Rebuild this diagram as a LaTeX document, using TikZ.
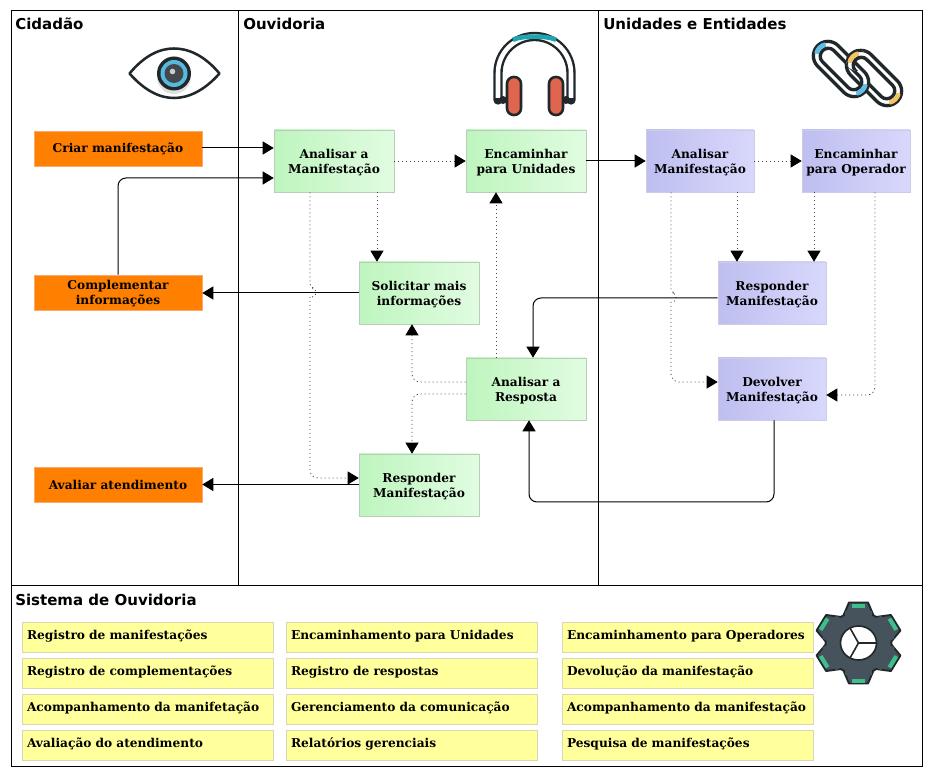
\documentclass[tikz,border=0pt]{standalone}
\usepackage{fontspec}
\setmainfont{DejaVu Serif}
\newfontfamily\titlefont{DejaVu Sans}
\usetikzlibrary{arrows.meta,calc}
\definecolor{inkdark}{HTML}{20282C}
\definecolor{gearbody}{HTML}{46535C}
\definecolor{gtip}{HTML}{3DBE8B}
\definecolor{tealband}{HTML}{1FA5B0}
\definecolor{padred}{HTML}{E0654F}
\definecolor{cblue}{HTML}{62BDE6}
\definecolor{cyellow}{HTML}{F5C35F}
\definecolor{orfill}{HTML}{FF8000}
\definecolor{ordraw}{HTML}{FAAA6E}
\definecolor{grl}{HTML}{BEF5BE}
\definecolor{grr}{HTML}{E1FCE1}
\definecolor{grd}{HTML}{B9CDB9}
\definecolor{bll}{HTML}{BEBEF0}
\definecolor{blr}{HTML}{D8D8FC}
\definecolor{bld}{HTML}{CDCDE6}
\definecolor{yef}{HTML}{FFFF9C}
\definecolor{yed}{HTML}{D8D8B8}
\newcommand{\chainlink}[1]{%
  \draw[white,line width=5pt,rounded corners=8.4pt] (-30,-11.2) rectangle (30,11.2);
  \draw[inkdark,line width=2.5pt,rounded corners=10.8pt] (-33,-14.5) rectangle (33,14.5);
  \draw[inkdark,line width=2.5pt,rounded corners=5.9pt] (-26,-8) rectangle (26,8);
  \draw[#1,line width=3.4pt] (-19,0) ++(145:11.2) arc[start angle=145,end angle=215,radius=11.2];
  \draw[#1,line width=3.4pt] (19,0) ++(-35:11.2) arc[start angle=-35,end angle=35,radius=11.2];
}
\newcommand{\boxlines}[1]{\raisebox{0pt}[\dimexpr\height+2.4pt\relax][\depth]{\begin{tabular}{@{}c@{}}#1\end{tabular}}}
\tikzset{
  x=0.75pt,y=-0.75pt,
  lane/.style={draw=black,line width=.75pt},
  lanetitle/.style={anchor=west,inner sep=0,font=\titlefont\fontsize{11.25}{14}\selectfont\bfseries},
  boxtext/.style={align=center,inner sep=0,font=\fontsize{9.15}{11.25}\selectfont\bfseries},
  orangebox/.style={boxtext,fill=orfill,draw=ordraw,line width=.4pt,minimum width=126pt,minimum height=26.25pt},
  greenbox/.style={boxtext,left color=grl,right color=grr,draw=grd,line width=.4pt,minimum width=90pt,minimum height=46.5pt},
  bluebox/.style={boxtext,left color=bll,right color=blr,draw=bld,line width=.4pt,minimum width=81pt,minimum height=46.5pt},
  yellowbox/.style={inner ysep=0,inner xsep=3.75pt,align=left,text width=180.75pt,minimum height=22.5pt,font=\fontsize{9.15}{11.25}\selectfont\bfseries,fill=yef,draw=yed,line width=.4pt},
  solid line/.style={draw=black,line width=.75pt,rounded corners=6pt},
  dot line/.style={draw=black!75,line width=.6pt,dash pattern=on .75pt off 2.25pt,rounded corners=6pt},
  tip/.style={-{Triangle[length=8.25pt,width=9.75pt,color=black,fill=black]}},
}
\begin{document}
\begin{tikzpicture}
\useasboundingbox (0,0) rectangle (933,777);
\fill[white] (0,0) rectangle (933,777);
% lanes
\draw[lane] (11,11) rectangle (922,766);
\draw[lane] (11,586) -- (922,586);
\draw[lane] (238.5,11) -- (238.5,586);
\draw[lane] (598.5,11) -- (598.5,586);
\node[lanetitle] (t1) at (15,23.5) {Cidadão};
\node[lanetitle] (t2) at (243,23.5) {Ouvidoria};
\node[lanetitle] (t3) at (603,23.5) {Unidades e Entidades};
\node[lanetitle] (t4) at (15,599.5) {Sistema de Ouvidoria};
% eye icon
\draw[inkdark,line width=1.9pt,fill=white,line join=round] (129.5,73.5) .. controls (145,55) and (160,48.5) .. (174,48.5) .. controls (188,48.5) and (204,55) .. (219.5,73.5) .. controls (204,91) and (188,98) .. (174,98) .. controls (160,98) and (145,91) .. cycle;
\fill[black!12] (174,77) circle (17);
\fill[inkdark] (174,73.5) circle (17);
\fill[cblue!85!tealband] (174,73.5) circle (13.5);
\fill[inkdark!85!white] (174,73.5) circle (9.5);
\fill[white!80!black] (172.5,71.5) circle (2.8);
% headphones icon
\draw[inkdark,line width=7pt,line cap=round] (498,100) -- (498,73) arc[start angle=180,end angle=360,radius=36.5] -- (571,100);
\draw[white,line width=3.4pt] (498,98) -- (498,73) arc[start angle=180,end angle=360,radius=36.5] -- (571,98);
\draw[tealband,line width=3.4pt] (513,39.8) .. controls (522,35.5) and (547,35.5) .. (556,39.8);
\fill[inkdark] (503,100) circle (4);
\fill[inkdark] (566,100) circle (4);
\draw[inkdark,line width=1.9pt,fill=padred,rounded corners=5pt] (507,77) rectangle (521,115);
\draw[inkdark,line width=1.9pt,fill=padred,rounded corners=5pt] (549,77) rectangle (563,115);
% chain icon
\begin{scope}[shift={(874,78)},rotate=-45]\chainlink{cyellow}\end{scope}
\begin{scope}[shift={(841,69)},rotate=-45]\chainlink{cblue}\end{scope}
\begin{scope}
  \clip (857,60) circle (11);
  \begin{scope}[shift={(874,78)},rotate=-45]\chainlink{cyellow}\end{scope}
\end{scope}
% gear icon
\begin{scope}[shift={(858.5,643)},xscale=1.06]
  \foreach \a in {30,90,150,210,270,330}{
    \begin{scope}[rotate=\a]
      \fill[gearbody,draw=inkdark,line width=1.4pt,line join=round] (28,-14) -- (40.5,-9) -- (40.5,9) -- (28,14) -- cycle;
      \fill[gtip] (35.5,-6.5) rectangle (39.5,6.5);
    \end{scope}
  }
  \fill[gearbody,draw=inkdark,line width=1.4pt] (0,0) circle (31);
  \foreach \a in {30,90,150,210,270,330}{
    \begin{scope}[rotate=\a]\fill[gearbody] (26,-13) rectangle (32,13);\end{scope}
  }
  \fill[white,draw=inkdark,line width=1.2pt] (0,0) circle (17);
  \draw[inkdark,line width=1.2pt] (-8,-15) -- (0,0) -- (17,0) (0,0) -- (-8,15);
\end{scope}
% process boxes
\node[orangebox] (cm) at (118,148.5) {Criar manifestação};
\node[orangebox] (ci) at (118,292.5) {\boxlines{Complementar\\informações}};
\node[orangebox] (aa) at (118,484.5) {Avaliar atendimento};
\node[greenbox] (am) at (334,161) {\boxlines{Analisar a\\Manifestação}};
\node[greenbox] (eu) at (526,161) {\boxlines{Encaminhar\\para Unidades}};
\node[greenbox] (si) at (419,293) {\boxlines{Solicitar mais\\informações}};
\node[greenbox] (ar) at (526,389) {\boxlines{Analisar a\\Resposta}};
\node[greenbox] (rm) at (419,485) {\boxlines{Responder\\Manifestação}};
\node[bluebox] (ab) at (700,161) {\boxlines{Analisar\\Manifestação}};
\node[bluebox] (eo) at (856,161) {\boxlines{Encaminhar\\para Operador}};
\node[bluebox] (rb) at (772,293) {\boxlines{Responder\\Manifestação}};
\node[bluebox] (db) at (772,389) {\boxlines{Devolver\\Manifestação}};
% system boxes
\foreach \n/\cx/\cy/\txt in {
  y1/147.5/637/Registro de manifestações,
  y2/147.5/673/Registro de complementações,
  y3/147.5/709/Acompanhamento da manifetação,
  y4/147.5/745/Avaliação do atendimento,
  y5/411.5/637/Encaminhamento para Unidades,
  y6/411.5/673/Registro de respostas,
  y7/411.5/709/Gerenciamento da comunicação,
  y8/411.5/745/Relatórios gerenciais,
  y9/687.5/637/Encaminhamento para Operadores,
  y10/687.5/673/Devolução da manifestação,
  y11/687.5/709/Acompanhamento da manifestação,
  y12/687.5/745/Pesquisa de manifestações}{
  \node[yellowbox] (\n) at (\cx,\cy) {\raisebox{3.7pt}{\txt}};
}
% connectors
\draw[solid line,tip] ($(cm.east)+(0,-.5)$) -- ($(am.west)+(0,-13)$);
\draw[solid line,tip] (ci.north) |- ($(am.west)+(0,17)$);
\draw[dot line,tip] (am.east) -- (eu.west);
\draw[solid line,tip] (eu.east) -- (ab.west);
\draw[dot line,tip] (ab.east) -- (eo.west);
\draw[dot line,tip] ($(am.south)+(43,0)$) -- ($(si.north)+(-42,0)$);
\draw[solid line,tip] (si.west) -- ($(ci.east)+(0,.5)$);
\draw[solid line,tip] ($(rm.west)+(0,-.5)$) -- (aa.east);
\coordinate (hopa) at (316,288);
\coordinate (hopb) at (310,297);
\draw[dot line,rounded corners=3pt] ($(am.south)+(-24,0)$) |- (hopa) |- (hopb);
\draw[dot line,tip] (hopb) |- ($(rm.west)+(0,-7)$);
\draw[dot line,tip] ($(ar.west)+(0,-7)$) -| ($(si.south)+(-7,0)$);
\draw[dot line,tip] ($(ar.west)+(0,5)$) -| ($(rm.north)+(-7,0)$);
\draw[dot line,tip] ($(ar.north)+(-30,0)$) -- ($(eu.south)+(-30,0)$);
\draw[dot line,tip] ($(ab.south)+(37,0)$) -- ($(rb.north)+(-35,0)$);
\draw[dot line,tip] ($(eo.south)+(-42,0)$) -- ($(rb.north)+(42,0)$);
\coordinate (hopc) at (676,293);
\coordinate (hopd) at (671,302);
\draw[dot line,rounded corners=3pt] ($(ab.south)+(-29,0)$) |- (hopc) |- (hopd);
\draw[dot line,tip] (hopd) |- ($(db.west)+(0,-7)$);
\draw[dot line,tip] ($(eo.south)+(19,0)$) |- ($(db.east)+(0,6)$);
\draw[solid line,tip] ($(rb.west)+(0,5)$) -| ($(ar.north)+(7,0)$);
\coordinate (loopb) at (529,502);
\draw[solid line,tip] ($(db.south)+(2,0)$) |- (loopb) -- ($(ar.south)+(3,0)$);
\end{tikzpicture}
\end{document}
